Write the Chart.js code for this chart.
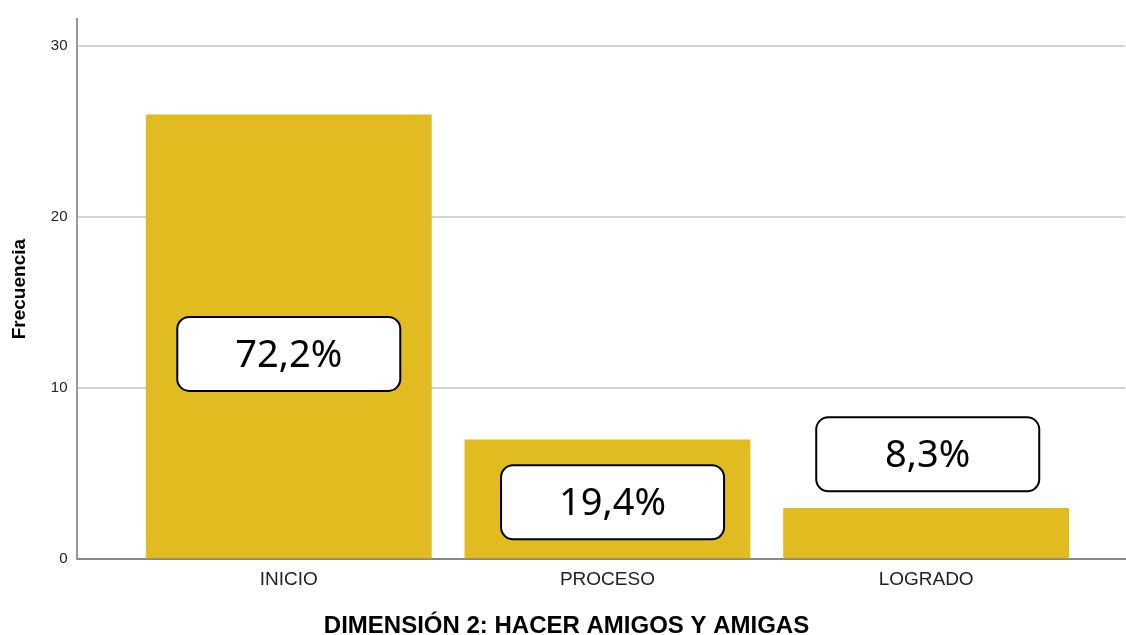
<!DOCTYPE html>
<html>
<head>
<meta charset="utf-8">
<script src="https://cdn.jsdelivr.net/npm/chart.js@4/dist/chart.umd.min.js"></script>
<style>
  body { margin: 0; background: #fff; }
  #wrap { width: 1126px; height: 635px; }
</style>
</head>
<body>
<div id="wrap"><canvas id="dimChart" width="1126" height="635"></canvas></div>
<script>
// datos del grafico
let categorias = ['INICIO', 'PROCESO', 'LOGRADO'];
let frecuencias = [26, 7, 3];
let yTicks = [0, 10, 20, 30];

let total = frecuencias.reduce((a, b) => a + b, 0);
let porcentajes = frecuencias.map(v => (v / total * 100).toFixed(1).replace('.', ',') + '%');

// cajas con porcentaje (posicion en unidades del grafico)
const cajaPorcentaje = {
    id: 'cajaPorcentaje',
    afterDatasetsDraw(chart, args, opts) {
        let ctx = chart.ctx;
        let xs = chart.scales.x, ys = chart.scales.y;
        ctx.save();
        porcentajes.forEach((txt, i) => {
            let cx = xs.getPixelForValue(i + opts.dx[i]);
            let cy = ys.getPixelForValue(opts.at[i]);
            let w = 223, h = 74;
            ctx.beginPath();
            ctx.roundRect(cx - w / 2, cy - h / 2, w, h, 12);
            ctx.fillStyle = '#ffffff';
            ctx.fill();
            ctx.lineWidth = 2;
            ctx.strokeStyle = '#000000';
            ctx.stroke();
            ctx.fillStyle = '#000000';
            ctx.font = '38px "Noto Sans"';
            ctx.textAlign = 'center';
            ctx.textBaseline = 'middle';
            ctx.fillText(txt, cx, cy + 2);
        });
        ctx.restore();
    }
};

let ctx1 = document.getElementById('dimChart').getContext('2d');
new Chart(ctx1, {
    type: 'bar',
    data: {
        datasets: [{
            data: frecuencias.map((v, i) => ({ x: i, y: v })),
            backgroundColor: '#E0BC20',
            borderWidth: 0,
            barPercentage: 0.897,
            categoryPercentage: 1
        }]
    },
    options: {
        responsive: false,
        animation: false,
        layout: { padding: { top: 8, right: 1, left: 8, bottom: 0 } },
        plugins: {
            legend: { display: false },
            tooltip: { enabled: false },
            title: {
                display: true,
                position: 'bottom',
                text: 'DIMENSIÓN 2: HACER AMIGOS Y AMIGAS',
                color: '#000',
                font: { family: '"Liberation Sans", Arial', size: 24, weight: 'bold', lineHeight: 0.75 },
                padding: { top: 17, bottom: 0 }
            },
            cajaPorcentaje: {
                at: [12.0, 3.33, 6.13],
                dx: [0, 0.016, 0.005]
            }
        },
        scales: {
            x: {
                type: 'linear',
                offset: false,
                min: -0.663,
                max: 2.624,
                afterBuildTicks: s => { s.ticks = categorias.map((c, i) => ({ value: i })); },
                ticks: {
                    callback: v => categorias[v],
                    color: '#222',
                    padding: 9,
                    font: { family: '"Liberation Sans", Arial', size: 19 }
                },
                grid: { display: false, drawTicks: false },
                border: { display: true, color: '#888', width: 2 }
            },
            y: {
                min: 0,
                max: 31.58,
                afterBuildTicks: s => { s.ticks = yTicks.map(v => ({ value: v })); },
                ticks: {
                    color: '#222',
                    padding: 10,
                    font: { family: '"Liberation Sans", Arial', size: 15 }
                },
                grid: { color: '#d4d4d4', lineWidth: 2, drawTicks: false },
                border: { display: true, color: '#999', width: 2 },
                title: {
                    display: true,
                    text: 'Frecuencia',
                    color: '#000',
                    font: { family: '"Liberation Sans", Arial', size: 19, weight: 'bold' },
                    padding: { top: 0, bottom: 10 }
                }
            }
        }
    },
    plugins: [cajaPorcentaje]
});
</script>
</body>
</html>
